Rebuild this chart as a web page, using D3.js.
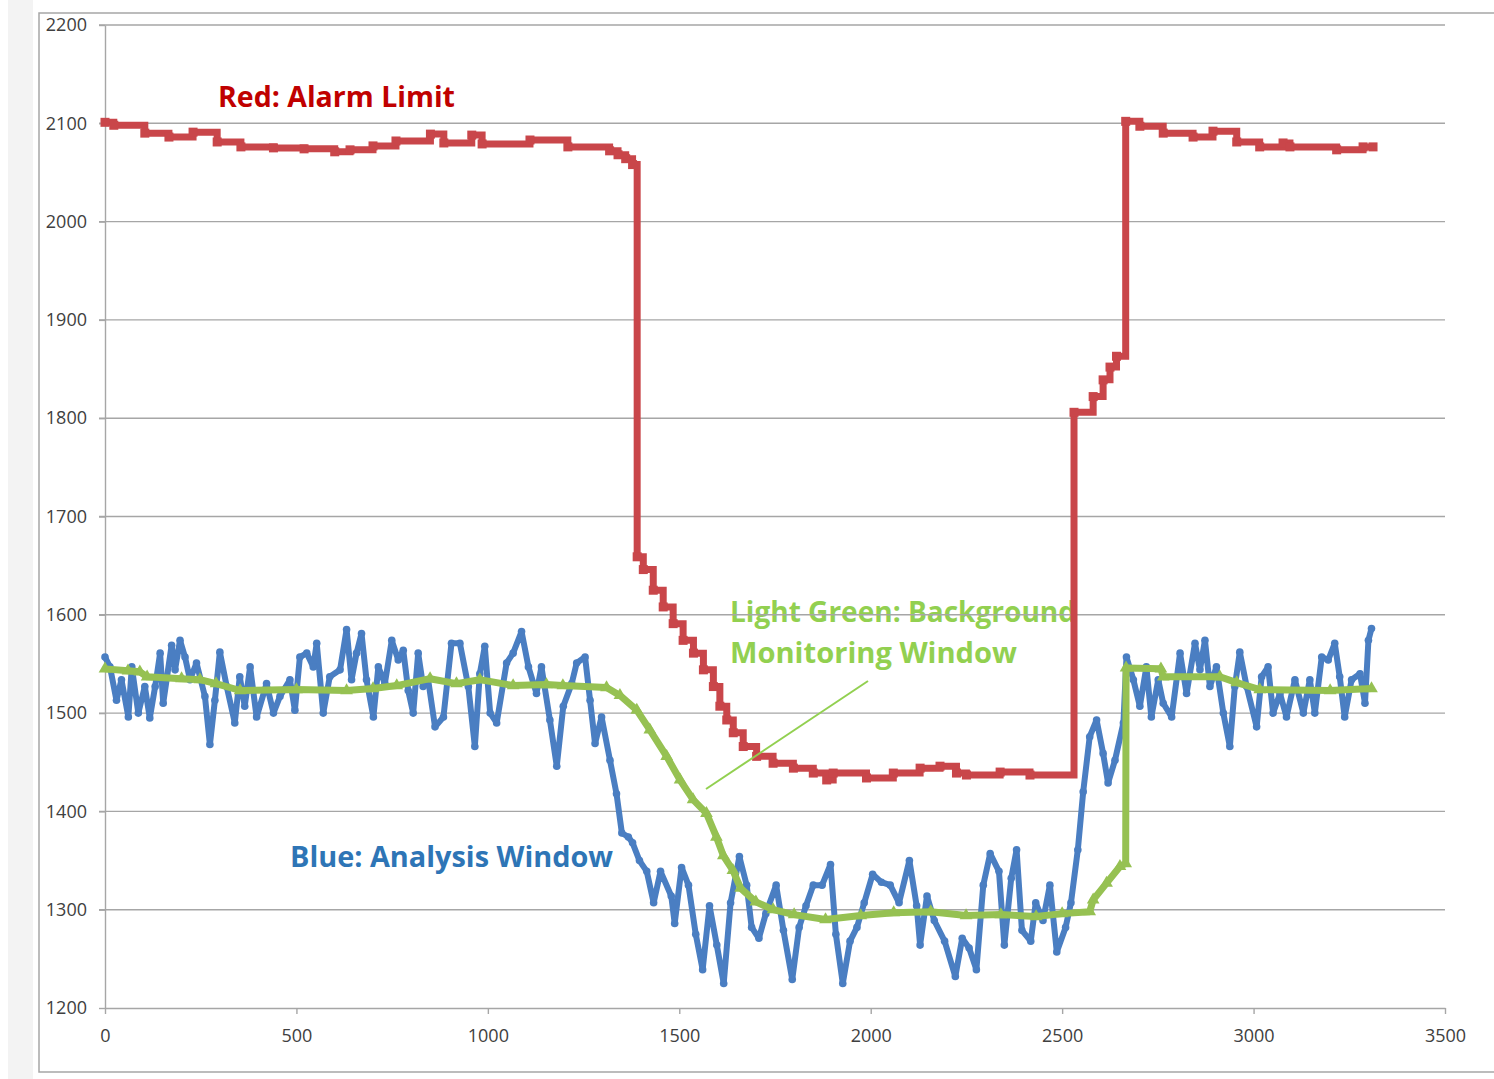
<!DOCTYPE html>
<html>
<head>
<meta charset="utf-8">
<script src="https://cdn.jsdelivr.net/npm/d3@7"></script>
<style>
  body { margin: 0; background: #fff; }
  text { font-family: "Open Sans", "DejaVu Sans", sans-serif; }
</style>
</head>
<body>
<div id="chart"></div>
<script>
// datos
var xTicks = [0, 500, 1000, 1500, 2000, 2500, 3000, 3500];
var yTicks = [1200, 1300, 1400, 1500, 1600, 1700, 1800, 1900, 2000, 2100, 2200];

// Red: Alarm Limit (escalones)
var redX = [0, 23, 104, 167, 230, 293, 355, 440, 520, 600, 640, 700, 760, 850, 885, 958, 985, 1110, 1209, 1318, 1340, 1360, 1378,
  1390, 1406, 1432, 1458, 1484, 1510, 1537, 1563, 1589, 1606, 1624, 1641, 1667, 1702, 1745, 1798, 1850, 1885, 1902, 1989, 2059, 2129, 2181, 2224, 2250, 2338, 2416,
  2531, 2581, 2607, 2625, 2642, 2666, 2703, 2764, 2842, 2894, 2956, 3016, 3077, 3095, 3217, 3286, 3312];
var redY = [2101, 2098, 2090, 2086, 2091, 2081, 2076, 2075, 2074, 2071, 2073, 2077, 2082, 2089, 2080, 2088, 2079, 2083, 2076, 2072, 2068, 2064, 2058,
  1659, 1646, 1625, 1608, 1591, 1574, 1561, 1544, 1527, 1507, 1493, 1480, 1466, 1456, 1449, 1444, 1439, 1432, 1439, 1434, 1439, 1444, 1446, 1439, 1437, 1440, 1437,
  1806, 1822, 1839, 1852, 1863, 2102, 2097, 2090, 2086, 2092, 2081, 2076, 2080, 2076, 2073, 2076, 2076];

// Blue: Analysis Window
var blueX = [0, 13, 30, 43, 61, 70, 87, 104, 117, 131, 144, 152, 174, 183, 196, 209, 222, 239, 261, 274, 287, 300, 318, 339, 352, 365, 379, 396,
  422, 440, 457, 483, 496, 509, 527, 544, 553, 570, 587, 614, 631, 644, 657, 670, 683, 701, 714, 731, 749, 766, 779, 792, 805, 818, 831, 844, 862,
  884, 905, 927, 949, 966, 979, 992, 1006, 1023, 1049, 1066, 1088, 1106, 1127, 1140, 1162, 1180, 1197, 1219, 1232, 1254, 1267, 1280, 1297, 1319,
  1336, 1350, 1367, 1378, 1396, 1415, 1433, 1451, 1479, 1488, 1506, 1524, 1543, 1561, 1579, 1598, 1616, 1634, 1657, 1676, 1689, 1708, 1726, 1753,
  1772, 1795, 1813, 1831, 1850, 1873, 1895, 1909, 1927, 1946, 1964, 1983, 2005, 2028, 2051, 2074, 2101, 2120, 2129, 2147, 2166, 2193, 2221, 2239,
  2257, 2276, 2294, 2312, 2335, 2349, 2367, 2381, 2395, 2418, 2431, 2450, 2468, 2486, 2509, 2523, 2541, 2555, 2572, 2590, 2607, 2620, 2638, 2660,
  2668, 2686, 2703, 2720, 2733, 2751, 2764, 2786, 2808, 2825, 2847, 2860, 2873, 2886, 2903, 2921, 2938, 2951, 2964, 2982, 3008, 3021, 3038, 3051,
  3069, 3086, 3108, 3130, 3147, 3160, 3178, 3195, 3212, 3225, 3238, 3256, 3278, 3291, 3300, 3308];
var blueY = [1557, 1547, 1513, 1534, 1496, 1547, 1500, 1527, 1495, 1527, 1561, 1510, 1569, 1544, 1574, 1557, 1534, 1551, 1517, 1468, 1513, 1562, 1527, 1490, 1537, 1507, 1547, 1496,
  1530, 1500, 1517, 1534, 1503, 1557, 1561, 1547, 1571, 1500, 1537, 1544, 1585, 1534, 1561, 1581, 1534, 1496, 1547, 1530, 1574, 1554, 1564, 1523, 1500, 1561, 1527, 1534, 1486,
  1496, 1571, 1571, 1527, 1466, 1540, 1568, 1500, 1490, 1551, 1561, 1583, 1547, 1520, 1547, 1493, 1446, 1507, 1530, 1551, 1557, 1513, 1469, 1496, 1452,
  1418, 1378, 1374, 1368, 1350, 1339, 1307, 1339, 1314, 1286, 1343, 1325, 1275, 1239, 1304, 1264, 1225, 1307, 1354, 1325, 1282, 1271, 1296, 1325,
  1279, 1229, 1282, 1304, 1325, 1325, 1346, 1275, 1225, 1268, 1282, 1307, 1336, 1328, 1325, 1307, 1350, 1304, 1264, 1314, 1289, 1268, 1232, 1271,
  1261, 1239, 1325, 1357, 1339, 1264, 1332, 1361, 1279, 1268, 1307, 1289, 1325, 1257, 1282, 1307, 1361, 1420, 1476, 1493, 1459, 1429, 1452, 1490,
  1557, 1534, 1507, 1547, 1496, 1534, 1510, 1496, 1561, 1520, 1571, 1544, 1574, 1527, 1547, 1500, 1466, 1527, 1562, 1527, 1486, 1537, 1547, 1500,
  1520, 1496, 1534, 1500, 1534, 1500, 1557, 1554, 1571, 1537, 1496, 1534, 1540, 1510, 1574, 1586];

// Light Green: Background Monitoring Window
var greenX = [0, 60, 91, 110, 200, 248, 290, 353, 500, 631, 700, 762, 849, 918, 979, 1066, 1153, 1196, 1310, 1345, 1389, 1423, 1467, 1502, 1536,
  1571, 1597, 1615, 1640, 1660, 1700, 1745, 1800, 1882, 1974, 2060, 2157, 2249, 2340, 2432, 2500, 2572, 2581, 2616, 2651, 2666, 2667, 2758,
  2764, 2912, 2956, 3016, 3200, 3308];
var greenY = [1545, 1543, 1542, 1537, 1535, 1534, 1530, 1523, 1524, 1523, 1525, 1528, 1535, 1530, 1534, 1528, 1529, 1528, 1526, 1518, 1503, 1483, 1456, 1432, 1412,
  1398, 1374, 1355, 1340, 1322, 1308, 1300, 1295, 1290, 1294, 1297, 1298, 1294, 1295, 1293, 1296, 1298, 1310, 1327, 1344, 1347, 1546, 1545,
  1537, 1537, 1531, 1524, 1523, 1525];

var W = 1494, H = 1079;
var svg = d3.select("#chart").append("svg").attr("width", W).attr("height", H);

// franja gris izquierda y marco
svg.append("rect").attr("x", 8).attr("y", 0).attr("width", 25).attr("height", H).attr("fill", "#f3f3f3");
svg.append("rect").attr("x", 39).attr("y", 13).attr("width", W).attr("height", 1059)
  .attr("fill", "#fff").attr("stroke", "#a6a6a6").attr("stroke-width", 1.5);

var x = d3.scaleLinear().domain([0, 3500]).range([105, 1445]);
var y = d3.scaleLinear().domain([1200, 2200]).range([1008, 25]);

// textos (debajo de la rejilla)
function nota(txt, px, py, color, len) {
  svg.append("text").attr("x", px).attr("y", py).attr("fill", color)
    .attr("font-size", 28).attr("font-weight", 700)
    .attr("textLength", len).attr("lengthAdjust", "spacingAndGlyphs")
    .text(txt);
}
nota("Red: Alarm Limit", 218, 107, "#c00000", 237);
nota("Blue: Analysis Window", 290, 867, "#2e75b6", 323);
nota("Light Green: Background", 730, 622, "#92d050", 346);
nota("Monitoring Window", 730, 663, "#92d050", 287);

// rejilla horizontal
svg.append("g").selectAll("line").data(yTicks.slice(1)).enter().append("line")
  .attr("x1", 99).attr("x2", 1445).attr("y1", d => y(d)).attr("y2", d => y(d))
  .attr("stroke", "#a6a6a6").attr("stroke-width", 1.4);

// eje y
var yAxis = svg.append("g").attr("transform", "translate(105,0)")
  .call(d3.axisLeft(y).tickValues(yTicks).tickSize(6).tickSizeOuter(0).tickPadding(12).tickFormat(d3.format("d")));
// eje x
var xAxis = svg.append("g").attr("transform", "translate(0,1008)")
  .call(d3.axisBottom(x).tickValues(xTicks).tickSize(6).tickSizeOuter(0).tickPadding(15).tickFormat(d3.format("d")));
[yAxis, xAxis].forEach(function (a) {
  a.select(".domain").attr("stroke", "#a6a6a6").attr("stroke-width", 1.4);
  a.selectAll(".tick line").attr("stroke", "#a6a6a6").attr("stroke-width", 1.4);
  a.selectAll(".tick text").attr("font-size", 18).attr("fill", "#404040")
    .style("font-family", "'Open Sans', sans-serif");
});

function puntos(xs, ys) {
  return xs.map(function (v, i) { return { x: v, y: ys[i] }; });
}
var redData = puntos(redX, redY);
var blueData = puntos(blueX, blueY);
var greenData = puntos(greenX, greenY);

var line = d3.line().x(d => x(d.x)).y(d => y(d.y));

// linea azul con marcadores redondos
var azul = "#4a7ec2";
svg.append("path").datum(blueData)
  .attr("fill", "none").attr("stroke", azul).attr("stroke-width", 6)
  .attr("stroke-linejoin", "round").attr("d", line);
svg.append("g").selectAll("circle").data(blueData).enter().append("circle")
  .attr("cx", d => x(d.x)).attr("cy", d => y(d.y)).attr("r", 3.8).attr("fill", azul);

// linea verde con triangulos
var verde = "#96c152";
svg.append("path").datum(greenData)
  .attr("fill", "none").attr("stroke", verde).attr("stroke-width", 7)
  .attr("stroke-linejoin", "round").attr("d", line);
svg.append("g").selectAll("path").data(greenData).enter().append("path")
  .attr("transform", d => "translate(" + x(d.x) + "," + y(d.y) + ")")
  .attr("d", d3.symbol().type(d3.symbolTriangle).size(70)).attr("fill", verde);

// linea roja en escalones con cuadrados
var rojo = "#c9464a";
var step = d3.line().x(d => x(d.x)).y(d => y(d.y)).curve(d3.curveStepAfter);
svg.append("path").datum(redData)
  .attr("fill", "none").attr("stroke", rojo).attr("stroke-width", 7)
  .attr("stroke-linecap", "square").attr("d", step);
svg.append("g").selectAll("rect").data(redData).enter().append("rect")
  .attr("x", d => x(d.x) - 4.5).attr("y", d => y(d.y) - 4.5)
  .attr("width", 9).attr("height", 9).attr("fill", rojo);

// flecha de la nota verde
svg.append("line").attr("x1", 868).attr("y1", 681).attr("x2", 706).attr("y2", 789)
  .attr("stroke", "#92d050").attr("stroke-width", 2);
</script>
</body>
</html>
